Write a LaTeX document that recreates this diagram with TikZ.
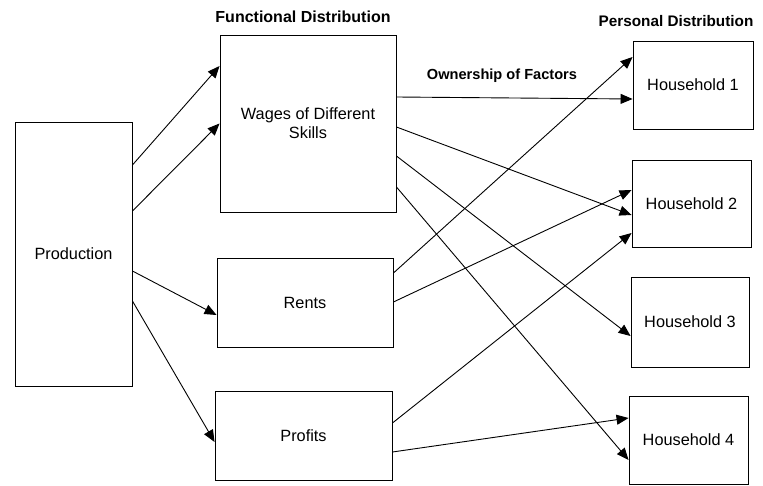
\documentclass[tikz,border=0pt]{standalone}
\usepackage{fontspec}
\setmainfont{Liberation Sans}
\usetikzlibrary{arrows.meta}
\begin{document}
\begin{tikzpicture}[x=1pt,y=-1pt,
  box/.style={draw,line width=0.9pt,inner sep=0pt,align=center,font=\fontsize{16.3}{19}\selectfont},
  hdr/.style={font=\fontsize{15.3}{18}\selectfont\bfseries},
  arr/.style={line width=0.9pt,-{Triangle[length=12pt,width=10pt]}}]
\useasboundingbox (0,0) rectangle (763,486);
\node[box,minimum width=117pt,minimum height=264pt] (prod) at (73.5,254) {Production};
\node[box,minimum width=176pt,minimum height=177pt] (wages) at (308,123.5) {Wages of Different\\Skills};
\node[box,minimum width=176pt,minimum height=89pt] (rents) at (305,302.5) {Rents};
\node[box,minimum width=177pt,minimum height=89pt] (profits) at (303.5,435.5) {Profits};
\node[box,minimum width=120pt,minimum height=88pt] (h1) at (693,85) {Household 1};
\node[box,minimum width=119pt,minimum height=87pt] (h2) at (691.5,203.5) {Household 2};
\node[box,minimum width=118pt,minimum height=90pt] (h3) at (690,322) {Household 3};
\node[box,minimum width=119pt,minimum height=88pt] (h4) at (688.5,440) {Household 4};
\node[hdr,font=\fontsize{16}{18}\selectfont\bfseries] (fd) at (303,17) {Functional Distribution};
\node[hdr] (pd) at (676,21) {Personal Distribution};
\node[hdr,font=\fontsize{14.6}{18}\selectfont\bfseries] (of) at (502,76) {Ownership of Factors};
% production to functional
\draw[arr] ([yshift=89pt]prod.east) -- ([yshift=57.5pt]wages.west);
\draw[arr] ([yshift=43pt]prod.east) -- ([yshift=0pt]wages.west);
\draw[arr] ([yshift=-17pt]prod.east) -- ([yshift=-12.5pt]rents.west);
\draw[arr] ([yshift=-47pt]prod.east) -- ([yshift=-6.5pt]profits.west);
% wages to households
\draw[arr] ([yshift=26.5pt]wages.east) -- ([yshift=-14pt]h1.west);
\draw[arr] ([yshift=-3.5pt]wages.east) -- ([yshift=-11.5pt]h2.west);
\draw[arr] ([yshift=-32.5pt]wages.east) -- ([yshift=-14pt]h3.west);
\draw[arr] ([yshift=-63.5pt]wages.east) -- ([yshift=-20pt]h4.west);
% rents to households
\draw[arr] ([yshift=29.5pt]rents.east) -- ([yshift=28pt]h1.west);
\draw[arr] ([yshift=0.5pt]rents.east) -- ([yshift=13.5pt]h2.west);
% profits to households
\draw[arr] ([yshift=12.5pt]profits.east) -- ([yshift=-29.5pt]h2.west);
\draw[arr] ([yshift=-16.5pt]profits.east) -- ([yshift=22pt]h4.west);
\end{tikzpicture}
\end{document}
